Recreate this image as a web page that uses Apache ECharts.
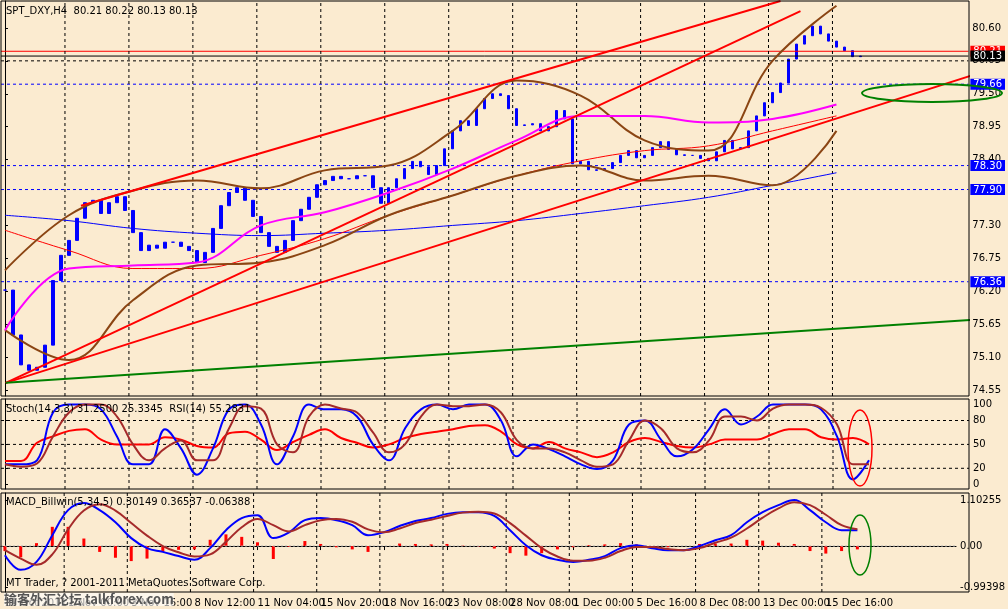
<!DOCTYPE html>
<html><head><meta charset="utf-8">
<script src="https://cdn.jsdelivr.net/npm/echarts@6/dist/echarts.min.js"></script>
<style>html,body{margin:0;padding:0;background:#fbebd0}#c{width:1008px;height:609px}</style>
</head><body><div id="c"></div>
<script>
const tickLabels=["27 Oct 2011","1 Nov 00:00","3 Nov 16:00","8 Nov 12:00","11 Nov 04:00","15 Nov 20:00","18 Nov 16:00","23 Nov 08:00","28 Nov 08:00","1 Dec 00:00","5 Dec 16:00","8 Dec 08:00","13 Dec 00:00","15 Dec 16:00"];
const closes=[76.22,75.47,74.97,74.88,74.93,75.30,76.38,76.80,77.05,77.42,77.68,77.72,77.50,77.68,77.78,77.55,77.18,76.88,76.97,76.92,77.02,77.02,76.95,76.88,76.68,76.85,77.25,77.63,77.85,77.93,77.72,77.45,77.18,76.95,76.85,77.05,77.38,77.57,77.77,77.98,78.05,78.12,78.08,78.08,78.13,78.13,77.93,77.67,77.93,78.08,78.25,78.37,78.28,78.15,78.30,78.58,78.88,79.05,78.97,79.25,79.42,79.50,79.47,79.25,78.97,78.98,79.00,78.88,78.95,79.22,79.08,78.33,78.37,78.23,78.22,78.25,78.35,78.47,78.55,78.43,78.47,78.60,78.70,78.57,78.48,78.47,78.47,78.42,78.38,78.53,78.72,78.58,78.60,78.88,79.13,79.35,79.52,79.68,80.08,80.33,80.47,80.63,80.50,80.38,80.28,80.22,80.12,80.13];
// indicators sampled every 8 bars
const maSlow=[77.47,77.38,77.25,77.17,77.13,77.17,77.22,77.30,77.38,77.50,77.63,77.77,77.97,78.18];
const maMagenta=[75.55,76.58,76.63,76.68,77.30,77.52,77.85,78.25,78.72,79.13,79.13,79.02,79.08,79.32];
const maRed=[77.22,76.88,76.58,76.58,76.80,77.08,77.47,77.80,78.13,78.38,78.55,78.63,78.88,79.13];
const bbUpper=[76.55,77.47,77.88,78.05,77.92,78.22,78.30,78.88,79.72,79.47,78.72,78.55,80.05,80.97];
const bbLower=[75.55,75.05,76.05,76.63,76.68,76.97,77.47,77.80,78.13,78.30,78.05,78.13,77.97,78.88];
// oscillators sampled every 2 bars
const stochK=[25,25,30,90,100,100,94,60,25,25,69,45,12,45,94,100,75,25,60,100,94,94,85,50,30,70,94,100,94,100,100,80,35,50,44,35,25,19,30,75,80,56,35,44,69,94,75,85,100,100,100,94,60,6,30];
const stochD=[25,22,26,60,90,100,100,85,50,30,45,55,30,30,70,98,95,50,40,85,100,95,90,65,40,50,85,100,98,98,100,90,55,45,45,40,30,22,25,55,80,70,45,40,55,85,85,80,95,100,100,96,75,25,25];
const rsi=[29,29,52,60,67,69,56,50,50,50,59,56,48,46,64,66,56,43,53,62,69,58,52,46,50,58,63,66,69,73,74,66,50,45,53,45,40,34,40,53,58,53,48,46,50,56,56,56,63,69,69,59,56,58,50];
const macdMain=[-0.22,-0.57,-0.38,0.26,0.86,1.03,0.86,0.57,0.19,-0.05,-0.14,-0.24,-0.33,-0.05,0.38,0.67,0.74,0.19,0.33,0.62,0.67,0.62,0.50,0.26,0.33,0.48,0.60,0.67,0.77,0.81,0.81,0.72,0.38,0.02,-0.22,-0.33,-0.38,-0.33,-0.24,-0.05,0.02,-0.05,-0.10,-0.10,0,0.14,0.26,0.57,0.81,0.98,1.10,0.86,0.57,0.38,0.38];
const macdSignal=[-0.1,-0.3,-0.45,-0.2,0.4,0.85,1.0,0.85,0.55,0.25,0.0,-0.15,-0.25,-0.2,0.1,0.45,0.65,0.5,0.35,0.5,0.62,0.65,0.58,0.4,0.33,0.42,0.55,0.63,0.72,0.8,0.82,0.78,0.55,0.25,-0.05,-0.25,-0.35,-0.35,-0.28,-0.12,-0.02,-0.02,-0.07,-0.1,-0.05,0.08,0.2,0.42,0.68,0.9,1.05,0.98,0.75,0.5,0.4];
const macdHist=[-0.12,-0.27,0.07,0.46,0.46,0.18,-0.14,-0.28,-0.36,-0.3,-0.14,-0.09,-0.08,0.15,0.28,0.22,0.09,-0.31,-0.02,0.12,0.05,-0.03,-0.08,-0.14,0,0.06,0.05,0.04,0.05,0.01,-0.01,-0.06,-0.17,-0.23,-0.17,-0.08,-0.03,0.02,0.04,0.07,0.04,-0.03,-0.03,0,0.05,0.06,0.06,0.15,0.13,0.08,0.05,-0.12,-0.18,-0.12,-0.08];
const trendRed=[[[9.5,77.63],[97,81.05]],[[0.1,74.67],[99.5,80.88]],[[0.1,74.67],[120.75,79.80]]];
const trendGreen=[[0.1,74.67],[120.75,75.72]];
const levels=[79.66,78.30,77.90,76.36];
const bidAsk=[80.21,80.13];
const priceTicks=[74.55,75.10,75.65,76.20,76.75,77.30,78.40,78.95,79.50,80.05,80.60];

const N=121, LSTEP=8, ISTEP=8, OSTEP=2;
const cats=[];for(let i=0;i<N;i++){cats.push(i%LSTEP===0&&tickLabels[i/LSTEP]?tickLabels[i/LSTEP]:'');}
const vLines=tickLabels.map((t,k)=>k*LSTEP).filter(v=>v>0);
const candles=closes.map((c,i)=>{const o=i?closes[i-1]:c;return [o,c,Math.min(o,c),Math.max(o,c)];});
const pts=(arr,s)=>arr.map((v,k)=>[k*s,v]);
const F='Tahoma, "DejaVu Sans", sans-serif';
const grids=[{left:1,right:39,top:1,height:395},{left:1,right:39,top:399,height:90},{left:1,right:39,top:493,height:99}];
const xAxes=[];
for(let g=0;g<3;g++){
 xAxes.push({type:'category',gridIndex:g,data:cats,boundaryGap:true,
  axisLine:{show:g===2,lineStyle:{color:'#000'}},axisTick:{show:g===2,interval:i=>i%LSTEP===0&&i<tickLabels.length*LSTEP,alignWithLabel:true,length:4,lineStyle:{color:'#000'}},
  axisLabel:{show:g===2,interval:0,align:'left',margin:6,fontFamily:F,fontSize:10,color:'#000'},
  splitLine:{show:false}});
 xAxes.push({type:'value',gridIndex:g,min:-0.5,max:N-0.5,show:false});
}
const yl={position:'right',axisLine:{show:true,lineStyle:{color:'#000'}},axisTick:{show:true,length:3,lineStyle:{color:'#000'}},axisLabel:{fontFamily:F,fontSize:10,color:'#000',margin:4}};
const tagAxis=(vals,bg)=>({gridIndex:0,type:'value',position:'right',min:74.45,max:81.05,axisLine:{show:false},axisTick:{show:false},splitLine:{show:false},
  axisLabel:{customValues:vals,margin:2,fontFamily:F,fontSize:10,hideOverlap:false,formatter:v=>'{t|'+v.toFixed(2)+'}',
   rich:{t:{backgroundColor:bg,color:'#fff',padding:[1,3,0,3]}}}});
const yAxes=[
 Object.assign({},yl,{gridIndex:0,type:'value',min:74.45,max:81.05,axisLabel:Object.assign({},yl.axisLabel,{customValues:priceTicks,formatter:v=>v.toFixed(2)}),axisTick:Object.assign({},yl.axisTick,{customValues:priceTicks}),splitLine:{show:false}}),
 Object.assign({},yl,{gridIndex:1,type:'value',min:-6,max:107,axisLabel:Object.assign({},yl.axisLabel,{customValues:[0,20,50,80,100]}),axisTick:Object.assign({},yl.axisTick,{customValues:[0,20,50,80,100]}),splitLine:{show:false}}),
 Object.assign({},yl,{gridIndex:2,type:'value',min:-1.10,max:1.27,axisLabel:Object.assign({},yl.axisLabel,{customValues:[-0.99398,0,1.10255],formatter:v=>v===0?'0.00':v.toFixed(5)}),axisTick:Object.assign({},yl.axisTick,{customValues:[-0.99398,0,1.10255]}),splitLine:{show:false}}),
 tagAxis(levels,'#0000ff'),tagAxis([bidAsk[0]],'#ff0000'),tagAxis([bidAsk[1]],'#000000')
];
function hline(v,g,extra){return Object.assign({type:'line',xAxisIndex:2*g+1,yAxisIndex:g,data:[[-0.5,v],[N-0.5,v]],symbol:'none',silent:true,lineStyle:{color:'#000',width:1,type:[3,3]}},extra||{});}
const series=[];
[80.05].forEach(v=>series.push(hline(v,0)));
[20,50,80].forEach(v=>series.push(hline(v,1)));
series.push(hline(0,2,{lineStyle:{color:'#aaa',width:1,type:[2,2]}}));
levels.forEach(v=>series.push(hline(v,0,{lineStyle:{color:'#0000ff',width:1,type:[3,3]}})));
series.push(hline(bidAsk[0],0,{lineStyle:{color:'#ff0000',width:1}}));
series.push(hline(bidAsk[1],0,{lineStyle:{color:'#000',width:1}}));
for(let g=0;g<3;g++){const top=[81.05,107,1.27][g],bot=[74.45,-6,-1.10][g];
 vLines.forEach(x=>series.push({type:'line',xAxisIndex:2*g+1,yAxisIndex:g,data:[[x-0.5,bot],[x-0.5,top]],symbol:'none',silent:true,lineStyle:{color:'#000',width:1,type:[3,3]}}));}
const ln=(data,color,w,g)=>({type:'line',xAxisIndex:2*g+1,yAxisIndex:g,data,symbol:'none',smooth:0.4,lineStyle:{color,width:w},silent:true});
series.push(ln(pts(maSlow,ISTEP),'#0000ff',1,0));
series.push(ln(pts(maRed,ISTEP),'#ff0000',1,0));
series.push(ln(pts(bbUpper,ISTEP),'#8b4513',2,0));
series.push(ln(pts(bbLower,ISTEP),'#8b4513',2,0));
series.push(ln(pts(maMagenta,ISTEP),'#ff00ff',2,0));
trendRed.forEach(t=>series.push(Object.assign(ln(t,'#ff0000',2,0),{smooth:false})));
series.push(Object.assign(ln(trendGreen,'#008000',2,0),{smooth:false}));
series.push({type:'candlestick',xAxisIndex:0,yAxisIndex:0,data:candles,barWidth:3,
 itemStyle:{color:'#0000ff',color0:'#0000ff',borderColor:'#0000ff',borderColor0:'#0000ff'}});
series.push(ln(pts(rsi,OSTEP),'#ff0000',2,1));
series.push(ln(pts(stochK,OSTEP),'#0000ff',2,1));
series.push(ln(pts(stochD,OSTEP),'#a52a2a',2,1));
series.push({type:'bar',xAxisIndex:5,yAxisIndex:2,data:pts(macdHist,OSTEP),barWidth:3,itemStyle:{color:'#ff0000'},silent:true});
series.push(ln(pts(macdMain,OSTEP),'#0000ff',2,2));
series.push(ln(pts(macdSignal,OSTEP),'#a52a2a',2,2));
const txt=(x,y,t,extra)=>Object.assign({type:'text',left:x,top:y,z:100,style:{text:t,fill:'#000',font:'10px '+F}},extra||{});
const chart=echarts.init(document.getElementById('c'),null,{renderer:'canvas'});
chart.setOption({animation:false,backgroundColor:'#fbebd0',grid:grids,xAxis:xAxes,yAxis:yAxes,series,
 graphic:[
  {type:'rect',shape:{x:1,y:1,width:968,height:395},style:{fill:'none',stroke:'#000',lineWidth:1},z:90,silent:true},
  {type:'rect',shape:{x:1,y:399,width:968,height:90},style:{fill:'none',stroke:'#000',lineWidth:1},z:90,silent:true},
  {type:'rect',shape:{x:1,y:493,width:968,height:99},style:{fill:'none',stroke:'#000',lineWidth:1},z:90,silent:true},
  txt(6,6,'SPT_DXY,H4  80.21 80.22 80.13 80.13'),
  txt(6,404,'Stoch(14,3,3) 31.2500 25.3345  RSI(14) 55.2831'),
  txt(6,497,'MACD_Billwin(5,34,5) 0.30149 0.36537 -0.06388'),
  txt(6,578,'MT Trader, ? 2001-2011 MetaQuotes Software Corp.'),
  {type:'text',left:4,top:593,z:101,style:{text:'输客外汇论坛 talkforex.com',fill:'#555',font:'bold 13px "Noto Sans CJK SC", sans-serif',backgroundColor:'rgba(255,255,255,0.6)'}},
  {type:'ellipse',shape:{cx:932,cy:93,rx:70,ry:9},style:{fill:'none',stroke:'#008000',lineWidth:2},z:95,silent:true},
  {type:'ellipse',shape:{cx:860,cy:448,rx:12,ry:38},style:{fill:'none',stroke:'#ff0000',lineWidth:1.5},z:95,silent:true},
  {type:'ellipse',shape:{cx:860,cy:545,rx:11,ry:30},style:{fill:'none',stroke:'#008000',lineWidth:1.5},z:95,silent:true}
 ]});
</script></body></html>
